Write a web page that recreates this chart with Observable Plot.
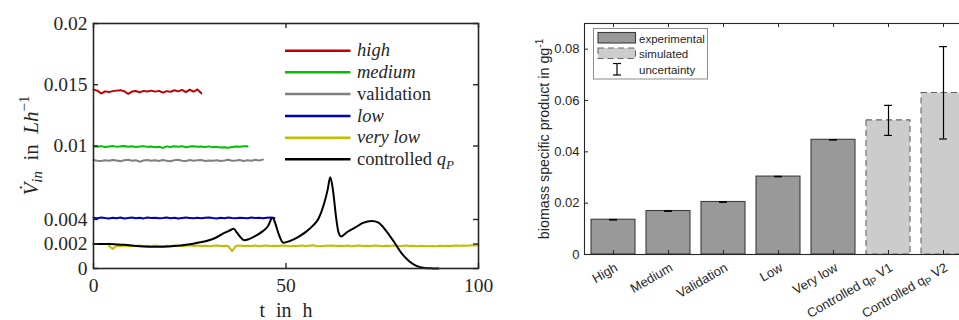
<!DOCTYPE html>
<html>
<head>
<meta charset="utf-8">
<script src="https://cdn.jsdelivr.net/npm/d3@7"></script>
<script src="https://cdn.jsdelivr.net/npm/@observablehq/plot@0.6"></script>
<style>
  html, body { margin: 0; padding: 0; background: #fff; width: 959px; height: 320px; overflow: hidden; }
  #feed { position: absolute; left: 0; top: 0; }
  #yield { position: absolute; left: 500px; top: 0; width: 471px; }
  #feed svg, #yield svg { max-width: none !important; display: block; }
</style>
</head>
<body>
<div id="feed"></div>
<div id="yield"></div>
<script>
// ---------- Feed rates (L/h), one value per hour from each run's start ----------
const highStart = 0;
const highRate = [0.01460, 0.01452, 0.01428, 0.01446, 0.01440, 0.01448, 0.01452, 0.01456, 0.01447, 0.01426,
  0.01444, 0.01449, 0.01438, 0.01450, 0.01445, 0.01452, 0.01444, 0.01450, 0.01436, 0.01448,
  0.01442, 0.01455, 0.01446, 0.01458, 0.01440, 0.01460, 0.01443, 0.01462, 0.01430];

const mediumStart = 0;
const mediumRate = [0.00998, 0.00994, 0.00999, 0.00992, 0.00996, 0.01001, 0.00993, 0.00997, 0.01000, 0.00994,
  0.00998, 0.00991, 0.00996, 0.00999, 0.00993, 0.00996, 0.00990, 0.00994, 0.00985, 0.00997,
  0.00992, 0.00998, 0.00994, 0.00999, 0.00990, 0.00995, 0.00998, 0.00993, 0.00996, 0.00992,
  0.00997, 0.00989, 0.00993, 0.00987, 0.00990, 0.00986, 0.00992, 0.00996, 0.00993, 0.00998, 0.00997];

const validationStart = 0;
const validationRate = [0.00885, 0.00880, 0.00878, 0.00884, 0.00880, 0.00886, 0.00882, 0.00876, 0.00883, 0.00887,
  0.00879, 0.00884, 0.00872, 0.00881, 0.00886, 0.00879, 0.00883, 0.00877, 0.00885, 0.00880,
  0.00875, 0.00884, 0.00888, 0.00880, 0.00878, 0.00885, 0.00879, 0.00883, 0.00886, 0.00877,
  0.00882, 0.00880, 0.00884, 0.00878, 0.00882, 0.00887, 0.00879, 0.00881, 0.00885, 0.00878,
  0.00883, 0.00880, 0.00887, 0.00881, 0.00889];

const lowStart = 0;
const lowRate = [0.00414, 0.00410, 0.00417, 0.00412, 0.00409, 0.00415, 0.00411, 0.00416, 0.00408, 0.00413,
  0.00417, 0.00411, 0.00414, 0.00409, 0.00416, 0.00412, 0.00415, 0.00410, 0.00413, 0.00417,
  0.00411, 0.00414, 0.00408, 0.00412, 0.00416, 0.00413, 0.00410, 0.00415, 0.00411, 0.00414,
  0.00417, 0.00412, 0.00409, 0.00414, 0.00411, 0.00416, 0.00412, 0.00410, 0.00415, 0.00413,
  0.00411, 0.00416, 0.00412, 0.00414, 0.00410, 0.00415, 0.00417, 0.00413];

const veryLowStart = 4;
const veryLowRate = [0.00184, 0.00160, 0.00186, 0.00183, 0.00187, 0.00182, 0.00186, 0.00184, 0.00188, 0.00183,
  0.00185, 0.00182, 0.00187, 0.00184, 0.00181, 0.00186, 0.00183, 0.00188, 0.00185, 0.00182,
  0.00186, 0.00189, 0.00184, 0.00187, 0.00183, 0.00186, 0.00182, 0.00185, 0.00188, 0.00184,
  0.00186, 0.00183, 0.00142, 0.00185, 0.00187, 0.00183, 0.00186, 0.00184, 0.00188, 0.00182,
  0.00185, 0.00187, 0.00183, 0.00186, 0.00184, 0.00188, 0.00185, 0.00182, 0.00186, 0.00184,
  0.00187, 0.00183, 0.00186, 0.00189, 0.00184, 0.00182, 0.00186, 0.00185, 0.00188, 0.00183,
  0.00186, 0.00184, 0.00187, 0.00182, 0.00185, 0.00188, 0.00184, 0.00186, 0.00183, 0.00187,
  0.00185, 0.00182, 0.00186, 0.00184, 0.00188, 0.00185, 0.00183, 0.00187, 0.00184, 0.00186,
  0.00182, 0.00185, 0.00183, 0.00181, 0.00184, 0.00182, 0.00185, 0.00183, 0.00186, 0.00184,
  0.00187, 0.00185, 0.00188, 0.00186, 0.00189, 0.00187, 0.00191];

// Controlled q_P feed profile (time in h, rate in L/h)
const controlledTime = [0, 4, 8, 12, 15, 18, 21, 24, 27, 30, 32, 34, 35.5, 36.4, 37.3, 38.2, 39.2, 40.5, 42.4, 44,
  45.3, 46.5, 47.2, 48, 49.3, 51, 53, 55, 57, 58.5, 59.8, 60.8, 61.5, 62.2, 63, 63.6, 64.3, 66, 68, 70,
  72.3, 74, 76, 78, 80, 82, 84, 86, 88, 89.6];
const controlledRate = [0.00200, 0.00200, 0.00193, 0.00181, 0.00177, 0.00178, 0.00183, 0.00193, 0.00210, 0.00230,
  0.00255, 0.00290, 0.00312, 0.00325, 0.00290, 0.00255, 0.00230, 0.00242, 0.00272, 0.00305,
  0.00345, 0.00414, 0.00370, 0.00290, 0.00210, 0.00225, 0.00255, 0.00295, 0.00350, 0.00410,
  0.00520, 0.00640, 0.00745, 0.00640, 0.00420, 0.00300, 0.00262, 0.00300, 0.00335, 0.00372,
  0.00388, 0.00375, 0.00308, 0.00220, 0.00125, 0.00060, 0.00020, 0.00005, 0.00001, 0.00000];

const feedXTicks = [0, 50, 100];
const feedXTickLabels = ["0", "50", "100"];
const feedYTicks = [0, 0.002, 0.004, 0.01, 0.015, 0.02];
const feedYTickLabels = ["0", "0.002", "0.004", "0.01", "0.015", "0.02"];

// ---------- Biomass specific product ----------
const strategies = ["High", "Medium", "Validation", "Low", "Very low", "Controlled qP V1", "Controlled qP V2"];
const strategyKind = ["experimental", "experimental", "experimental", "experimental", "experimental", "simulated", "simulated"];
const productYield = [0.01355, 0.01694, 0.02046, 0.03036, 0.04469, 0.05225, 0.06293];
const yieldLower = [0.01345, 0.01684, 0.02036, 0.03028, 0.04461, 0.0464, 0.0450];
const yieldUpper = [0.01365, 0.01704, 0.02056, 0.03044, 0.04477, 0.0581, 0.0810];
const yieldTicks = [0, 0.02, 0.04, 0.06, 0.08];
const yieldTickLabels = ["0", "0.02", "0.04", "0.06", "0.08"];

// ---------- build rows ----------
const hourly = (start, values) => values.map((v, i) => ({t: start + i, v}));
const highRows = hourly(highStart, highRate);
const mediumRows = hourly(mediumStart, mediumRate);
const validationRows = hourly(validationStart, validationRate);
const lowRows = hourly(lowStart, lowRate);
const veryLowRows = hourly(veryLowStart, veryLowRate);
const controlledRows = controlledTime.map((t, i) => ({t, v: controlledRate[i]}));

const SERIF = "'Liberation Serif', 'DejaVu Serif', serif";
const SANS = "'Liberation Sans', Arial, sans-serif";
const INK = "#262626";

const seriesStyle = [
  {name: "high", rows: highRows, color: "#c00000"},
  {name: "medium", rows: mediumRows, color: "#00c000"},
  {name: "validation", rows: validationRows, color: "#808080"},
  {name: "low", rows: lowRows, color: "#0000c0"},
  {name: "very low", rows: veryLowRows, color: "#bfbf00"},
  {name: "controlled", rows: controlledRows, color: "#000000"}
];

// ---------- left panel: feed rates ----------
const fW = 500, fH = 320, fML = 93, fMR = 22, fMT = 23, fMB = 52;
const fPlotW = fW - fML - fMR, fPlotH = fH - fMT - fMB;
const tick = 5;

const feed = Plot.plot({
  width: fW, height: fH,
  marginLeft: fML, marginRight: fMR, marginTop: fMT, marginBottom: fMB,
  style: {fontFamily: SERIF, fontSize: "19.5px", color: INK, background: "transparent", overflow: "visible"},
  x: {domain: [0, 100]},
  y: {domain: [0, 0.02]},
  marks: [
    ...seriesStyle.map(s => Plot.line(s.rows, {
      x: "t", y: "v", stroke: s.color, strokeWidth: 2,
      curve: s.name === "controlled" ? "monotone-x" : "linear", strokeLinejoin: "round"
    })),
    Plot.frame({stroke: INK, strokeWidth: 1.6}),
    Plot.tickX(feedXTicks, {x: d => d, insetTop: fPlotH - tick, stroke: INK, strokeWidth: 1.4}),
    Plot.tickX(feedXTicks, {x: d => d, insetBottom: fPlotH - tick, stroke: INK, strokeWidth: 1.4}),
    Plot.tickY(feedYTicks, {y: d => d, insetRight: fPlotW - tick, stroke: INK, strokeWidth: 1.4}),
    Plot.tickY(feedYTicks, {y: d => d, insetLeft: fPlotW - tick, stroke: INK, strokeWidth: 1.4}),
    Plot.axisX(feedXTicks, {tickSize: 0, tickPadding: 10, label: null, tickFormat: (d, i) => feedXTickLabels[i]}),
    Plot.axisY(feedYTicks, {tickSize: 0, tickPadding: 6, label: null, tickFormat: (d, i) => feedYTickLabels[i]}),
    Plot.text(["t in h"], {frameAnchor: "bottom", lineAnchor: "bottom", dy: 48.5, fontSize: 20, fill: INK})
  ]
});
document.getElementById("feed").appendChild(feed);

{
  const svg = d3.select(feed);
  svg.selectAll("text").filter(function () { return this.textContent === "t in h"; })
    .style("word-spacing", "6px");

  // y-axis title: V̇_in in Lh^-1
  const yl = svg.append("text")
    .attr("transform", `translate(37.5,${fMT + fPlotH * 0.5}) rotate(-90)`)
    .attr("text-anchor", "middle")
    .attr("fill", INK)
    .style("font-family", SERIF).style("font-size", "21px");
  yl.append("tspan").attr("font-style", "italic").text("V\u0307");
  yl.append("tspan").attr("font-style", "italic").attr("font-size", "15px").attr("dy", 4).text("in");
  yl.append("tspan").attr("dy", -4).text("\u2002in\u2002");
  yl.append("tspan").attr("font-style", "italic").text("Lh");
  yl.append("tspan").attr("font-size", "15px").attr("dy", -9).text("\u22121");

  // legend
  const lg = svg.append("g").style("font-family", SERIF).style("font-size", "18.5px")
    .attr("text-anchor", "start");
  const rowsY = [50.7, 72.3, 94, 116, 137.7, 159.3];
  const parts = [
    [["high", true]],
    [["medium", true]],
    [["validation", false]],
    [["low", true]],
    [["very low", true]],
    [["controlled ", false], ["q", true], ["P", true, "sub"]]
  ];
  seriesStyle.forEach((s, i) => {
    const y = rowsY[i];
    lg.append("line").attr("x1", 285).attr("x2", 350.5).attr("y1", y).attr("y2", y)
      .attr("stroke", s.color).attr("stroke-width", 2.6);
    const t = lg.append("text").attr("x", 357).attr("y", y + 5.5).attr("fill", INK)
      .attr("text-anchor", "start");
    parts[i].forEach(([txt, it, sub]) => {
      const sp = t.append("tspan").text(txt);
      if (it) sp.attr("font-style", "italic");
      if (sub) sp.attr("font-size", "13px").attr("dy", 4);
    });
  });
}

// ---------- right panel: biomass specific product ----------
const yieldRows = strategies.map((s, i) => ({
  s, kind: strategyKind[i], value: productYield[i], lo: yieldLower[i], hi: yieldUpper[i]
}));
const bW = 471, bH = 320, bML = 84, bMR = 0, bMT = 23, bMB = 66;
const bPlotW = bW - bML - bMR, bPlotH = bH - bMT - bMB;
const step = bPlotW / strategies.length;
const capInset = (step * 0.8 - 8) / 2;
const btick = 4;

const bars = Plot.plot({
  width: bW, height: bH,
  marginLeft: bML, marginRight: bMR, marginTop: bMT, marginBottom: bMB,
  style: {fontFamily: SANS, fontSize: "13px", color: INK, background: "transparent", overflow: "visible", maxWidth: "none"},
  x: {domain: strategies, paddingInner: 0.2, paddingOuter: 0.1},
  y: {domain: [0, 0.09]},
  marks: [
    Plot.barY(yieldRows.filter(d => d.kind === "experimental"), {
      x: "s", y: "value", fill: "#999999", stroke: "#3c3c3c", strokeWidth: 1.1
    }),
    Plot.barY(yieldRows.filter(d => d.kind === "simulated"), {
      x: "s", y: "value", fill: "#cccccc", stroke: "#666666", strokeWidth: 1.1, strokeDasharray: "6,4"
    }),
    Plot.ruleX(yieldRows, {x: "s", y1: "lo", y2: "hi", stroke: "#000", strokeWidth: 1.2}),
    Plot.tickY(yieldRows, {x: "s", y: "hi", insetLeft: capInset, insetRight: capInset, stroke: "#000", strokeWidth: 1.2}),
    Plot.tickY(yieldRows, {x: "s", y: "lo", insetLeft: capInset, insetRight: capInset, stroke: "#000", strokeWidth: 1.2}),
    Plot.frame({stroke: INK, strokeWidth: 1.1}),
    Plot.tickX(strategies, {x: d => d, insetTop: bPlotH - btick, stroke: INK, strokeWidth: 1}),
    Plot.tickX(strategies, {x: d => d, insetBottom: bPlotH - btick, stroke: INK, strokeWidth: 1}),
    Plot.tickY(yieldTicks, {y: d => d, insetRight: bPlotW - btick, stroke: INK, strokeWidth: 1}),
    Plot.axisX({tickSize: 0, tickPadding: 12, dx: 3, tickRotate: -30, label: null}),
    Plot.axisY(yieldTicks, {tickSize: 0, tickPadding: 5, label: null, tickFormat: (d, i) => yieldTickLabels[i]})
  ]
});
document.getElementById("yield").appendChild(bars);

{
  const svg = d3.select(bars);
  // subscript P in the controlled strategy labels
  svg.selectAll("text").filter(function () { return /qP/.test(this.textContent) && this.childElementCount === 0; })
    .each(function () {
      const full = this.textContent;
      const [pre, post] = full.split("qP");
      const t = d3.select(this).text("");
      t.append("tspan").text(pre + "q");
      t.append("tspan").attr("font-size", "10px").attr("dy", 3).text("P");
      t.append("tspan").attr("dy", -3).text(post);
    });

  // y-axis title
  const yl = svg.append("text")
    .attr("transform", `translate(48.5,139) rotate(-90)`)
    .attr("text-anchor", "middle").attr("fill", INK)
    .style("font-family", SANS).style("font-size", "14.3px");
  yl.append("tspan").text("biomass specific product in gg");
  yl.append("tspan").attr("font-size", "10px").attr("dy", -6).text("-1");

  // legend
  const lg = svg.append("g").style("font-family", SANS).style("font-size", "11.5px")
    .attr("text-anchor", "start");
  lg.append("rect").attr("x", 93.5).attr("y", 28.5).attr("width", 114).attr("height", 50.5)
    .attr("fill", "#fff").attr("stroke", "#8c8c8c").attr("stroke-width", 1);
  lg.append("rect").attr("x", 98).attr("y", 32.5).attr("width", 37.5).attr("height", 10.5)
    .attr("fill", "#999999").attr("stroke", "#3c3c3c").attr("stroke-width", 1.1);
  lg.append("rect").attr("x", 98).attr("y", 48).attr("width", 37.5).attr("height", 10.5)
    .attr("fill", "#cccccc").attr("stroke", "#666666").attr("stroke-width", 1.1).attr("stroke-dasharray", "6,4");
  lg.append("line").attr("x1", 117).attr("x2", 117).attr("y1", 63.5).attr("y2", 75)
    .attr("stroke", "#000").attr("stroke-width", 1.2);
  lg.append("line").attr("x1", 113).attr("x2", 121).attr("y1", 63.5).attr("y2", 63.5)
    .attr("stroke", "#000").attr("stroke-width", 1.2);
  lg.append("line").attr("x1", 113).attr("x2", 121).attr("y1", 75).attr("y2", 75)
    .attr("stroke", "#000").attr("stroke-width", 1.2);
  [["experimental", 43], ["simulated", 58], ["uncertainty", 74]].forEach(([txt, y]) => {
    lg.append("text").attr("x", 139).attr("y", y).attr("fill", INK).attr("text-anchor", "start").text(txt);
  });
}
</script>
</body>
</html>
